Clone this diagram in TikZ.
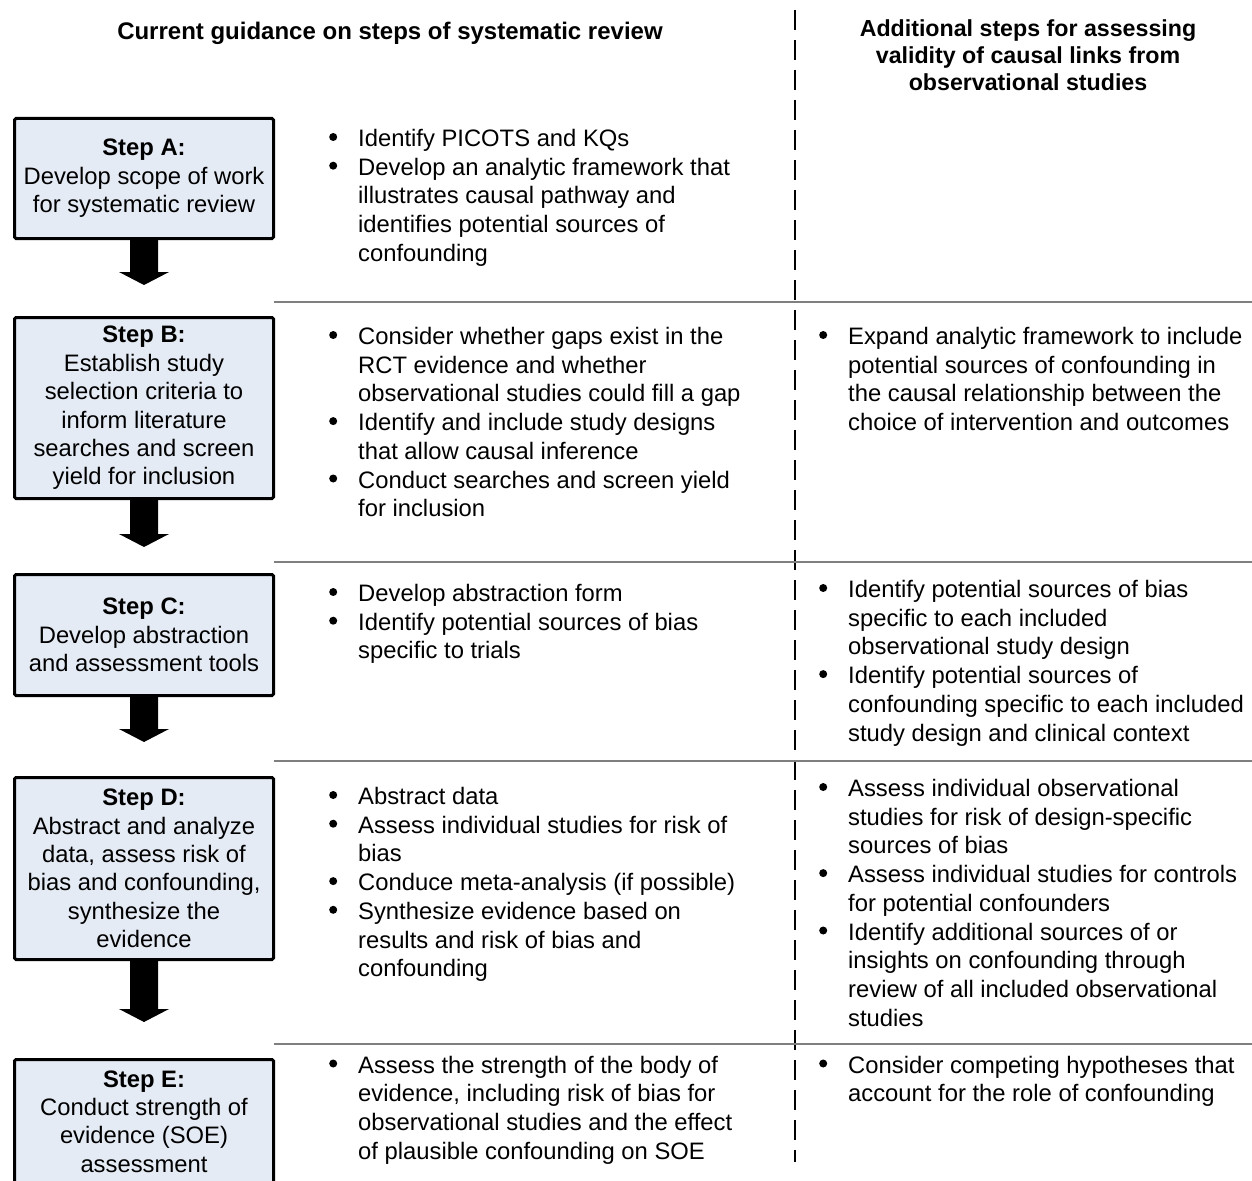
\documentclass[tikz,border=0pt]{standalone}
\usepackage{fontspec}
\setmainfont{Liberation Sans}
\usetikzlibrary{calc}
\definecolor{boxfill}{HTML}{E5EBF5}
\definecolor{sepgray}{HTML}{7F7F7F}
\newcommand{\bdot}{\makebox[29pt][l]{\raisebox{5.5pt}{\tikz\fill (0pt,0pt) circle (4pt);}}}
\newcommand{\bitem}[1]{\bdot\parbox[t]{440pt}{\raggedright #1}}
\newcommand{\blockarrow}[2]{%
  \fill ($(#1.south)+(-14,0)$) -- ($(#2)+(-14,-13)$) -- ($(#2)+(-25,-13)$) -- (#2)
        -- ($(#2)+(25,-13)$) -- ($(#2)+(14,-13)$) -- ($(#1.south)+(14,0)$) -- cycle;}
\tikzset{
  stepbox/.style={draw=black, line width=3pt, fill=boxfill, rounded corners=1.5pt,
    minimum width=259pt, align=center, inner sep=0pt,
    font=\fontsize{23.8pt}{28.4pt}\selectfont},
  item/.style={anchor=base west, inner sep=0pt, font=\fontsize{23.8pt}{28.7pt}\selectfont},
  hdr/.style={anchor=base, inner sep=0pt, font=\fontsize{23.2pt}{27.1pt}\selectfont\bfseries},
  sepline/.style={draw=sepgray, line width=1.5pt},
  dashline/.style={draw=black, line width=2.5pt, dash pattern=on 20pt off 10pt}
}
\begin{document}
\begin{tikzpicture}[x=1pt,y=-1pt]
\useasboundingbox (0,0) rectangle (1252,1180);
\clip (0,0) rectangle (1252,1180);
% headers
\node[hdr, font=\fontsize{24pt}{27pt}\selectfont\bfseries] (hL) at (390,40) {Current guidance on steps of systematic review};
\node[hdr] (hR) at (1028,36.7) {\parbox[t]{420pt}{\centering Additional steps for assessing\\validity of causal links from\\observational studies}};
% dashed divider
\coordinate (dtop) at (795,10);
\coordinate (dbot) at (795,1162);
\draw[dashline] (dtop) -- (dbot);
% separators
\foreach \yy/\nm in {302/s1,562/s2,761/s3,1044/s4}{
  \coordinate (\nm a) at (274,\yy);
  \coordinate (\nm b) at (1252,\yy);
  \draw[sepline] (\nm a) -- (\nm b);
}
% step boxes
\node[stepbox, minimum height=120pt] (boxA) at (144,178.5) {\textbf{Step A:}\\Develop scope of work\\for systematic review};
\node[stepbox, minimum height=181pt] (boxB) at (144,408) {\textbf{Step B:}\\Establish study\\selection criteria to\\inform literature\\searches and screen\\yield for inclusion};
\node[stepbox, minimum height=121pt] (boxC) at (144,635) {\textbf{Step C:}\\Develop abstraction\\and assessment tools};
\node[stepbox, minimum height=182pt] (boxD) at (144,868.5) {\textbf{Step D:}\\Abstract and analyze\\data, assess risk of\\bias and confounding,\\synthesize the\\evidence};
\node[stepbox, minimum height=124pt] (boxE) at (144,1121.5) {\textbf{Step E:}\\Conduct strength of\\evidence (SOE)\\assessment};
% block arrows
\coordinate (tipA) at (144,285);
\coordinate (tipB) at (144,547);
\coordinate (tipC) at (144,742);
\coordinate (tipD) at (144,1022);
\blockarrow{boxA}{tipA}
\blockarrow{boxB}{tipB}
\blockarrow{boxC}{tipC}
\blockarrow{boxD}{tipD}
% row A
\node[item] (a1) at (329,146.5) {\bitem{Identify PICOTS and KQs}};
\node[item] (a2) at (329,175.2) {\bitem{Develop an analytic framework that\\illustrates causal pathway and\\identifies potential sources of\\confounding}};
% row B
\node[item] (b1) at (329,344.5) {\bitem{Consider whether gaps exist in the\\RCT evidence and whether\\observational studies could fill a gap}};
\node[item] (b2) at (329,430.6) {\bitem{Identify and include study designs\\that allow causal inference}};
\node[item] (b3) at (329,488) {\bitem{Conduct searches and screen yield\\for inclusion}};
\node[item] (b4) at (819,344.5) {\bitem{Expand analytic framework to include\\potential sources of confounding in\\the causal relationship between the\\choice of intervention and outcomes}};
% row C
\node[item] (c1) at (329,601.5) {\bitem{Develop abstraction form}};
\node[item] (c2) at (329,630.2) {\bitem{Identify potential sources of bias\\specific to trials}};
\node[item] (c3) at (819,597.5) {\bitem{Identify potential sources of bias\\specific to each included\\observational study design}};
\node[item] (c4) at (819,683.6) {\bitem{Identify potential sources of\\confounding specific to each included\\study design and clinical context}};
% row D
\node[item] (d1) at (329,804.5) {\bitem{Abstract data}};
\node[item] (d2) at (329,833.2) {\bitem{Assess individual studies for risk of\\bias}};
\node[item] (d3) at (329,890.6) {\bitem{Conduce meta-analysis (if possible)}};
\node[item] (d4) at (329,919.3) {\bitem{Synthesize evidence based on\\results and risk of bias and\\confounding}};
\node[item] (d5) at (819,796.5) {\bitem{Assess individual observational\\studies for risk of design-specific\\sources of bias}};
\node[item] (d6) at (819,882.6) {\bitem{Assess individual studies for controls\\for potential confounders}};
\node[item] (d7) at (819,940) {\bitem{Identify additional sources of or\\insights on confounding through\\review of all included observational\\studies}};
% row E
\node[item] (e1) at (329,1073) {\bitem{Assess the strength of the body of\\evidence, including risk of bias for\\observational studies and the effect\\of plausible confounding on SOE}};
\node[item] (e2) at (819,1073) {\bitem{Consider competing hypotheses that\\account for the role of confounding}};
\end{tikzpicture}
\end{document}
